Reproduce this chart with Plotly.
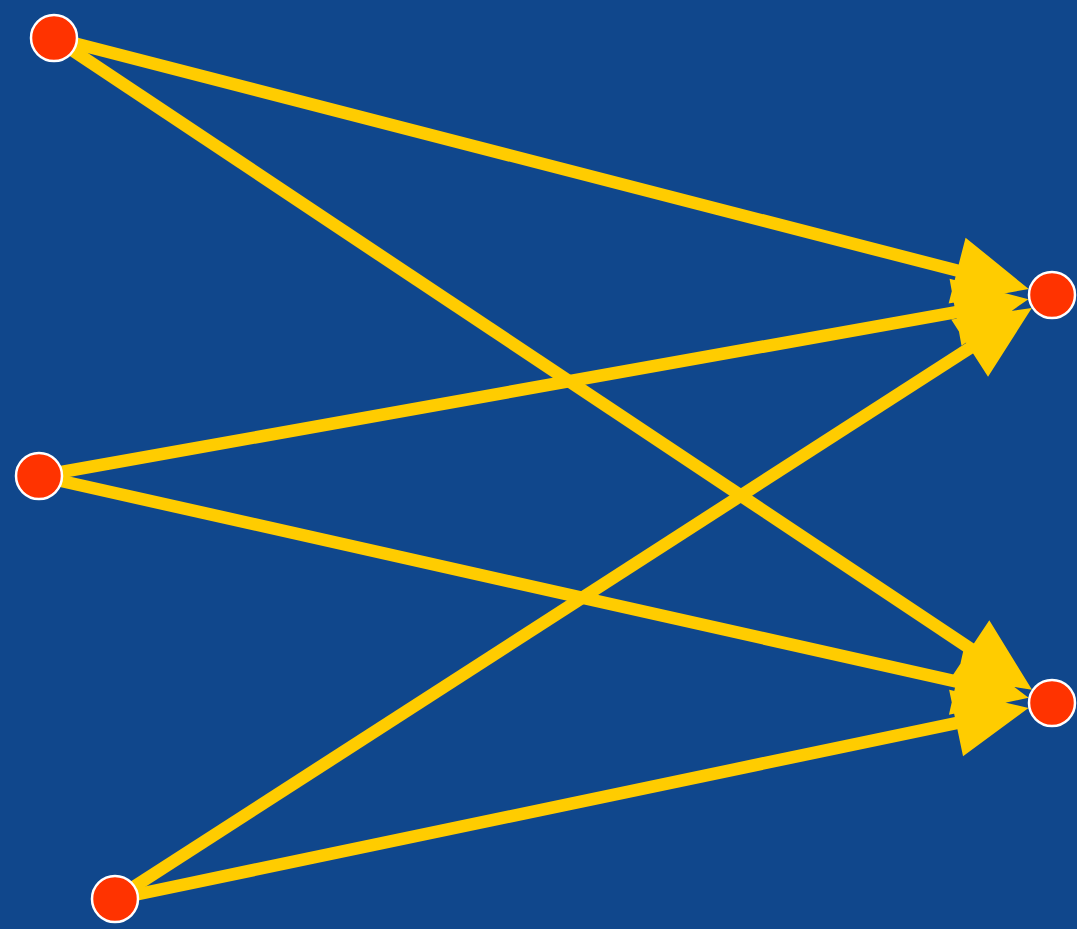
import numpy as np
import plotly.graph_objects as go

# Node data (pixel-space coordinates)
node_names = ["A", "B", "C", "D", "E"]
node_x = [54, 39, 115, 1052, 1052]
node_y = [38, 476, 899, 295, 703]

# Directed edges (source -> target)
edge_src = ["A", "A", "B", "B", "C", "C"]
edge_dst = ["D", "E", "D", "E", "D", "E"]

W, H = 1077, 929
BG = "#10478c"
YELLOW = "#ffcc00"
RED = "#ff3300"
NODE_R = 23
HEAD_L = 74
HEAD_W = 34

pos = {n: (x, y) for n, x, y in zip(node_names, node_x, node_y)}

fig = go.Figure()

heads_x, heads_y = [], []
for s, d in zip(edge_src, edge_dst):
    x0, y0 = pos[s]
    x1, y1 = pos[d]
    v = np.array([x1 - x0, y1 - y0], dtype=float)
    u = v / np.linalg.norm(v)
    n = np.array([-u[1], u[0]])
    tip = np.array([x1, y1]) - u * (NODE_R + 1)
    base = tip - u * HEAD_L
    fig.add_trace(go.Scatter(x=[x0, base[0] + u[0] * 5], y=[y0, base[1] + u[1] * 5],
                             mode="lines", line=dict(color=YELLOW, width=12.5),
                             hoverinfo="skip", showlegend=False))
    c1 = base + n * HEAD_W
    c2 = base - n * HEAD_W
    heads_x += [tip[0], c1[0], c2[0], tip[0], None]
    heads_y += [tip[1], c1[1], c2[1], tip[1], None]

fig.add_trace(go.Scatter(x=heads_x, y=heads_y, mode="lines", fill="toself",
                         fillcolor=YELLOW, line=dict(color=YELLOW, width=0),
                         hoverinfo="skip", showlegend=False))

fig.add_trace(go.Scatter(x=node_x, y=node_y, mode="markers", text=node_names,
                         marker=dict(size=2 * NODE_R, color=RED,
                                     line=dict(color="white", width=2.5)),
                         hoverinfo="text", showlegend=False))

fig.update_layout(
    width=W, height=H,
    margin=dict(l=0, r=0, t=0, b=0),
    paper_bgcolor=BG, plot_bgcolor=BG,
    xaxis=dict(range=[0, W], visible=False, fixedrange=True),
    yaxis=dict(range=[H, 0], visible=False, fixedrange=True),
)

fig.write_html("out.html", config={"displayModeBar": False},
               post_script="document.body.style.margin='0';document.body.style.background='%s';" % BG)
